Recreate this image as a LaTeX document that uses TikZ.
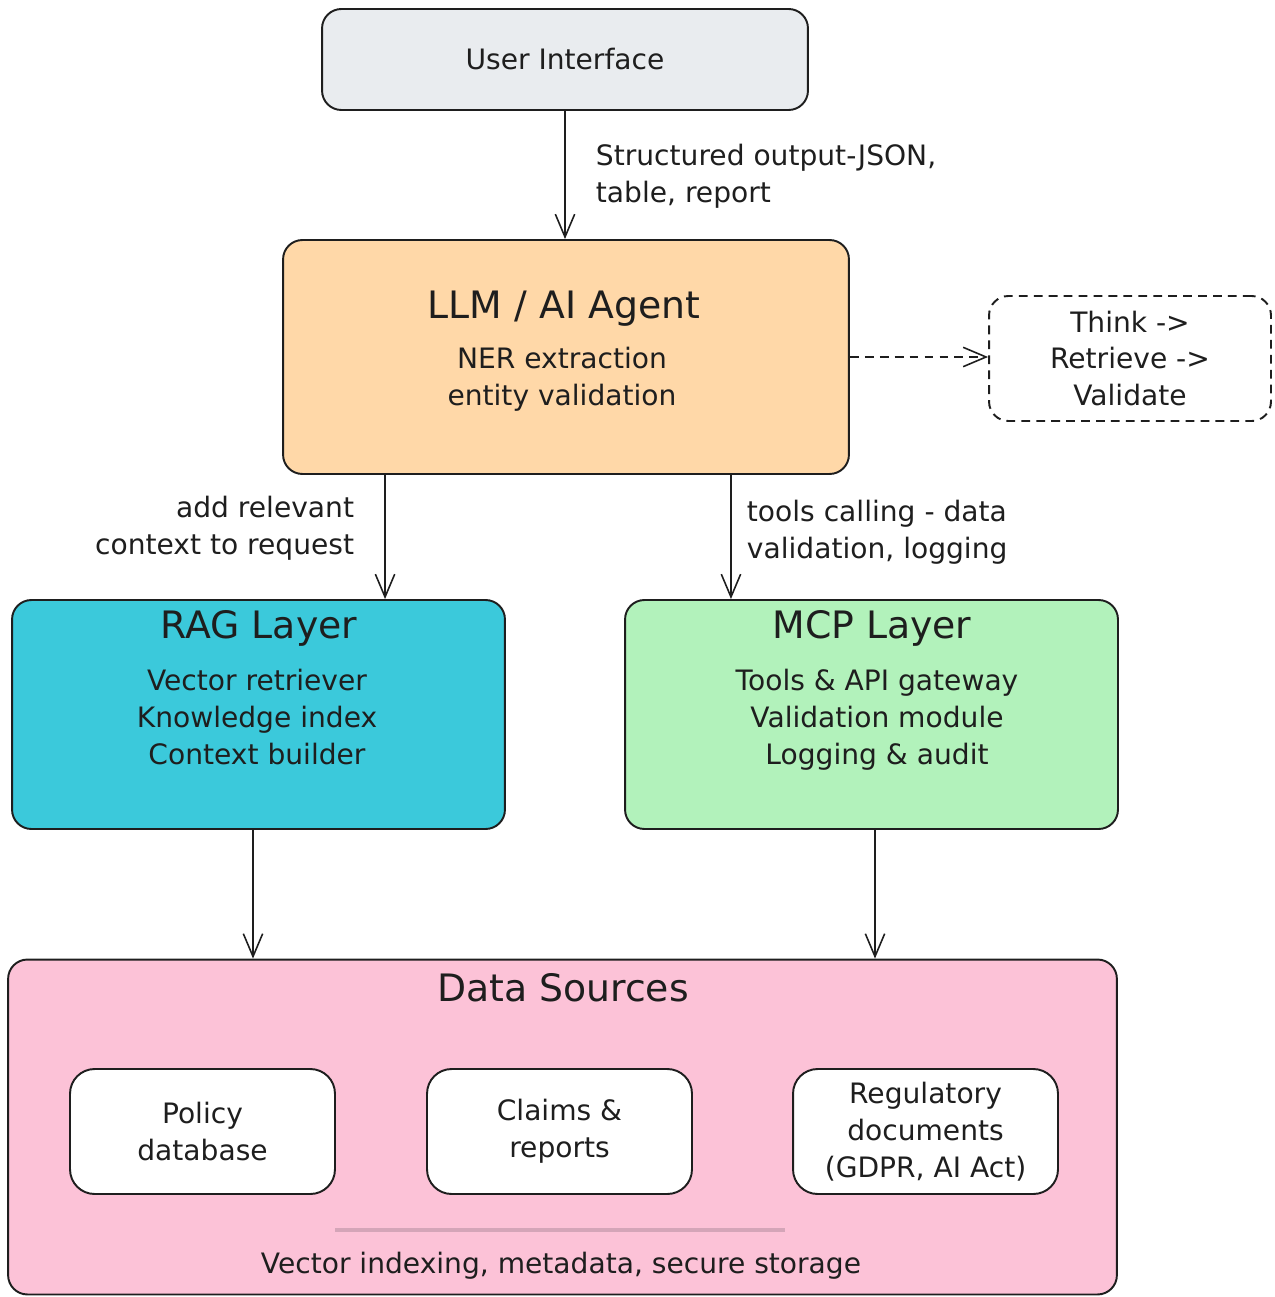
\documentclass[tikz,border=0pt]{standalone}
\usepackage{fontspec}
\setmainfont{DejaVu Sans}
\usepackage{tikz}
\usetikzlibrary{arrows.meta,positioning,calc}

\definecolor{uiGray}{HTML}{E9ECEF}
\definecolor{llmOrange}{HTML}{FFD8A8}
\definecolor{ragCyan}{HTML}{3BC9DB}
\definecolor{mcpGreen}{HTML}{B2F2BB}
\definecolor{dataPink}{HTML}{FCC2D7}
\definecolor{sepPink}{HTML}{D4A5B8}
\definecolor{inkBlack}{HTML}{1E1E1E}

\newcommand{\bodyfont}{\fontsize{16}{21}\selectfont}
\newcommand{\titlefont}{\fontsize{21.5}{24}\selectfont}

\tikzset{
  every picture/.append style={line width=1.1pt},
  every node/.append style={text=inkBlack},
}
\tikzset{
  box/.style={draw=inkBlack, rounded corners=11pt, align=center, inner sep=0pt},
  arrow/.style={-{Straight Barb[length=13pt,width=11pt]}, line width=0.9pt, draw=inkBlack},
  lbl/.style={font=\bodyfont, inner sep=0pt}
}

\begin{document}
\begin{tikzpicture}[
  x=0.02cm, y=-0.02cm,
  cUI/.style  ={fill=uiGray},
  cLLM/.style ={fill=llmOrange},
  cRAG/.style ={fill=ragCyan},
  cMCP/.style ={fill=mcpGreen},
  cData/.style={fill=dataPink},
  loop/.style ={box, dash pattern=on 5pt off 3.5pt, fill=white, font=\bodyfont},
  src/.style  ={box, fill=white, rounded corners=14pt, minimum width=5.3cm,
                minimum height=2.5cm, font=\bodyfont},
  ttl/.style  ={font=\titlefont, inner sep=0pt},
  sepline/.style={draw=sepPink, line width=1.8pt}
]
\useasboundingbox (0,0) rectangle (1274,1297);

% Top: user interface and agent
\node[box,cUI, minimum width=9.72cm, minimum height=2.02cm, font=\bodyfont] (ui) at (565,59.5) {User Interface};
\node[box,cLLM, minimum width=11.32cm, minimum height=4.68cm] (llm) at (566,357) {};
\node[ttl] (llmT) at (564,309) {LLM / AI Agent};
\node[lbl, align=center] (llmB) at (562,379) {NER extraction\\entity validation};
\node[loop, minimum width=5.64cm, minimum height=2.5cm] (think) at (1130,358.5) {Think ->\\Retrieve ->\\Validate};

% Middle row: RAG and MCP layers
\node[box,cRAG, minimum width=9.86cm, minimum height=4.58cm] (rag) at (258.5,714.5) {};
\node[ttl] (ragT) at (259,628) {RAG Layer};
\node[lbl, align=center] (ragB) at (257,717) {Vector retriever\\Knowledge index\\Context builder};
\node[box,cMCP, minimum width=9.86cm, minimum height=4.58cm] (mcp) at (871.5,714.5) {};
\node[ttl] (mcpT) at (872,628) {MCP Layer};
\node[lbl, align=center] (mcpB) at (877,720) {Tools \& API gateway\\Validation module\\Logging \& audit};

% Bottom: data sources
\node[box,cData, minimum width=22.18cm, minimum height=6.7cm] (data) at (562.5,1127) {};
\node[ttl] (dataT) at (563,988) {Data Sources};
\node[src] (policy) at (202.5,1131.5) {Policy\\database};
\node[src] (claims) at (559.5,1131.5) {Claims \&\\reports};
\node[src] (regul) at (925.5,1131.5) {Regulatory\\documents\\(GDPR, AI Act)};
\draw[sepline] (335,1230) -- (785,1230);
\node[lbl] (storage) at (561,1266) {Vector indexing, metadata, secure storage};

% Connectors and their labels
\draw[arrow] (ui.south) -- (ui.south |- llm.north);
\node[lbl, align=left, anchor=west] (uiL) at (595,176) {Structured output-JSON,\\table, report};
\draw[arrow, dash pattern=on 5pt off 3.5pt] (llm.east) -- (llm.east -| think.west);
\draw[arrow] ([xshift=-3.62cm]llm.south) -- ([xshift=-3.62cm]llm.south |- rag.north);
\node[lbl, align=right, anchor=east] (ragL) at (355,528) {add relevant\\context to request};
\draw[arrow] ([xshift=3.3cm]llm.south) -- ([xshift=3.3cm]llm.south |- mcp.north);
\node[lbl, align=left, anchor=west] (mcpL) at (746,532) {tools calling - data\\validation, logging};
\draw[arrow] ([xshift=-0.11cm]rag.south) -- ([xshift=-0.11cm]rag.south |- data.north);
\draw[arrow] ([xshift=0.07cm]mcp.south) -- ([xshift=0.07cm]mcp.south |- data.north);

\end{tikzpicture}
\end{document}
